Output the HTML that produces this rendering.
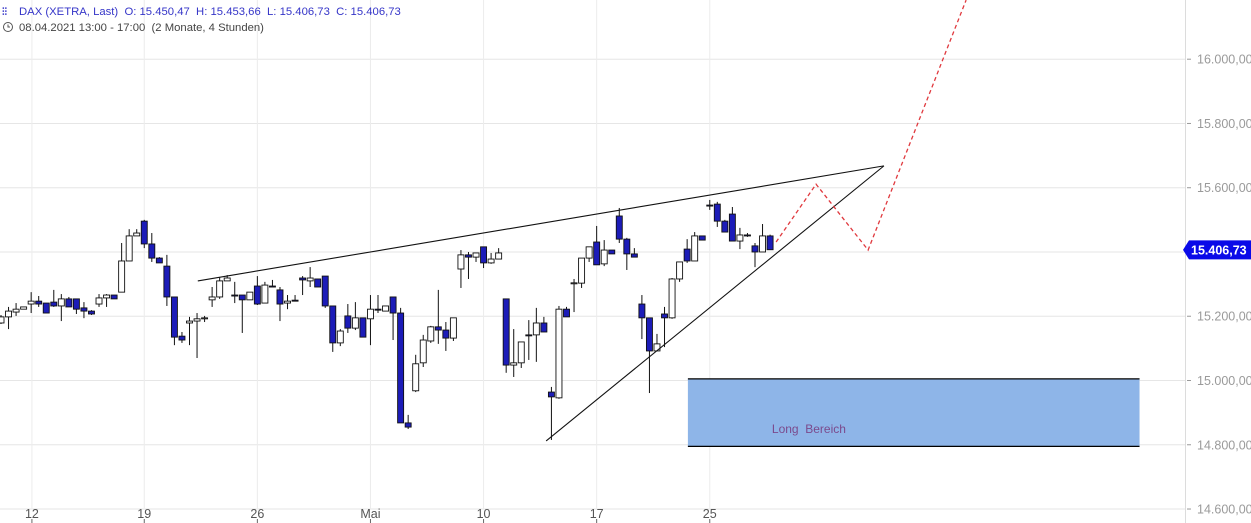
<!DOCTYPE html>
<html><head><meta charset="utf-8">
<style>
body{margin:0;background:#fff;width:1251px;height:523px;overflow:hidden;font-family:"Liberation Sans",sans-serif}
svg{display:block}
text{white-space:pre}
</style></head>
<body>
<svg id="chart" width="1251" height="523" xmlns="http://www.w3.org/2000/svg">
<g id="grid"></g>
<g id="annot-box"></g>
<g id="candles"></g>
<g id="annot"></g>
<g id="axes"></g>
<g>
  <text x="2" y="15" font-size="10" fill="#3535c8" font-weight="bold">⫶⫶</text>
  <text x="19" y="15" font-size="11.3" fill="#3535c8">DAX (XETRA, Last)  O: 15.450,47  H: 15.453,66  L: 15.406,73  C: 15.406,73</text>
  <circle cx="8" cy="27" r="4.5" fill="none" stroke="#555" stroke-width="1"/>
  <path d="M8 24.5V27H10" fill="none" stroke="#555" stroke-width="1"/>
  <text x="19" y="31" font-size="11.3" fill="#444">08.04.2021 13:00 - 17:00  (2 Monate, 4 Stunden)</text>
</g>
</svg>
<script>
const opens=[15179,15198,15213,15222,15238,15247,15241,15244,15232,15254,15254,15226,15216,15238,15257,15266,15275,15372,15450,15496,15425,15381,15356,15260,15138,15179,15185,15192,15251,15260,15310,15266,15266,15251,15294,15241,15294,15282,15241,15250,15319,15310,15316,15325,15232,15117,15201,15163,15195,15192,15222,15216,15260,15210,14868,14968,15055,15123,15167,15157,15132,15347,15391,15384,15416,15366,15378,15254,15048,15055,15142,15142,15179,14964,14946,15222,15303,15303,15381,15431,15363,15406,15512,15440,15394,15238,15195,15092,15207,15195,15316,15409,15372,15450,15546,15549,15496,15518,15434,15453,15419,15400,15450];
const highs=[15204,15229,15241,15229,15275,15263,15241,15282,15269,15260,15254,15244,15219,15269,15269,15266,15428,15471,15471,15500,15459,15384,15391,15260,15151,15198,15210,15201,15291,15322,15328,15307,15266,15275,15325,15307,15313,15291,15266,15266,15325,15353,15316,15325,15232,15160,15238,15244,15195,15266,15266,15232,15260,15226,14893,15080,15142,15170,15282,15182,15195,15406,15400,15397,15416,15397,15412,15254,15160,15120,15188,15226,15198,14980,15232,15229,15316,15381,15416,15481,15437,15406,15537,15444,15412,15266,15195,15145,15229,15319,15369,15440,15462,15450,15562,15556,15500,15540,15475,15459,15428,15487,15454];
const lows=[15176,15160,15201,15222,15210,15229,15210,15229,15185,15229,15207,15194,15204,15229,15229,15254,15275,15372,15450,15412,15369,15366,15232,15110,15117,15110,15070,15182,15229,15254,15310,15241,15148,15251,15235,15241,15291,15185,15222,15247,15266,15291,15291,15226,15089,15107,15148,15157,15135,15110,15210,15216,15126,14868,14849,14964,15042,15117,15114,15092,15123,15288,15316,15369,15350,15363,15378,15024,15011,15039,15064,15058,15151,14815,14943,15198,15213,15288,15369,15360,15356,15394,15428,15344,15384,15129,14961,15092,15104,15192,15307,15366,15372,15437,15531,15478,15462,15434,15409,15447,15353,15400,15407];
const closes=[15198,15216,15222,15229,15247,15238,15210,15232,15254,15229,15222,15216,15207,15257,15266,15254,15372,15450,15459,15425,15381,15366,15260,15135,15126,15185,15192,15195,15260,15310,15319,15264,15251,15275,15238,15297,15292,15238,15247,15249,15313,15319,15291,15232,15117,15154,15163,15195,15135,15222,15221,15232,15210,14868,14855,15052,15126,15167,15157,15132,15195,15391,15384,15397,15366,15378,15397,15048,15055,15120,15141,15179,15151,14949,15222,15198,15304,15381,15416,15360,15406,15394,15440,15394,15384,15195,15092,15114,15195,15316,15369,15372,15450,15437,15545,15496,15462,15434,15453,15452,15400,15450,15407];
const dateLabels=["12","19","26","Mai","10","17","25"];
const dateIndex=[4.1,19,34,49,64,79,94];
const priceTicks=[14600,14800,15000,15200,15400,15600,15800,16000];
const priceLabels=["14.600,00","14.800,00","15.000,00","15.200,00","15.400,00","15.600,00","15.800,00","16.000,00"];
const lastPrice=15406.73;
// annotation points [index, price]
const upperTrend=[[26.1,15310],[117.1,15668]];
const lowerTrend=[[72.3,14812],[117.1,15668]];
const projection=[[102.8,15431],[108.1,15611],[115.0,15406],[128.0,16184]];
const longZone=[[91.1,15005],[151.0,14795]];

const NS="http://www.w3.org/2000/svg";
const xs=i=>1+i*7.54;
const ys=v=>380.5-(v-15000)*0.3213;
function mk(parent,tag,attrs){const e=document.createElementNS(NS,tag);for(const k in attrs)e.setAttribute(k,attrs[k]);document.getElementById(parent).appendChild(e);return e;}

priceTicks.forEach((v,k)=>{
  const l=mk('grid','line',{x1:0,x2:1185,y1:ys(v),y2:ys(v),stroke:'#e6e6e6','stroke-width':1});
  
  
  const t=mk('axes','line',{x1:1187,x2:1191,y1:ys(v),y2:ys(v),stroke:'#999'});
  
  
  const tx=mk('axes','text',{x:1197,y:ys(v)+4.5,'font-size':12.5,fill:'#9a9a9a'});
  tx.textContent=priceLabels[k];
  
  
});
dateIndex.forEach((d,k)=>{
  const x=xs(d);
  const l=mk('grid','line',{x1:x,x2:x,y1:0,y2:509,stroke:'#ececec'});
  
  
  const t=mk('axes','line',{x1:x,x2:x,y1:519,y2:523,stroke:'#666'});
  
  
  const tx=mk('axes','text',{x:x,y:518,'font-size':12.5,fill:'#555','text-anchor':'middle'});
  tx.textContent=dateLabels[k];
  
  
});
const ax=mk('axes','line',{x1:1185.5,x2:1185.5,y1:0,y2:523,stroke:'#dcdcdc'});



{
  const x1=xs(longZone[0][0]),x2=xs(longZone[1][0]),y1=ys(longZone[0][1]),y2=ys(longZone[1][1]);
  const r=mk('annot-box','rect',{x:x1,y:y1,width:x2-x1,height:y2-y1,fill:'#8eb5e8'});
  
  
  const a=mk('annot-box','line',{x1:x1,x2:x2,y1:y1,y2:y1,stroke:'#000','stroke-width':1.3});
  
  
  const b=mk('annot-box','line',{x1:x1,x2:x2,y1:y2,y2:y2,stroke:'#000','stroke-width':1.3});
  
  
  const t=mk('annot-box','text',{x:x1+84,y:y1+54,'font-size':12,fill:'#7b4a8c'});
  t.textContent='Long  Bereich';
  
  
}

opens.forEach((o,i)=>{
  const x=xs(i),c=closes[i],h=highs[i],l=lows[i];
  const w=mk('candles','line',{x1:x,x2:x,y1:ys(h),y2:ys(l),stroke:'#111','stroke-width':1});
  
  
  const top=ys(Math.max(o,c)),bot=ys(Math.min(o,c));
  const bear=c<o;
  const r=mk('candles','rect',{x:x-3,y:top,width:6,height:Math.max(bot-top,1),fill:bear?'#1c1cb8':'#fff',stroke:'#111','stroke-width':0.9});
  
  
});

function poly(pts,attrs,name){
  const e=mk('annot','polyline',Object.assign({points:pts.map(p=>xs(p[0])+','+ys(p[1])).join(' '),fill:'none'},attrs));
  
  
}
poly(upperTrend,{stroke:'#111','stroke-width':1.1},'upper-trendline');
poly(lowerTrend,{stroke:'#111','stroke-width':1.1},'lower-trendline');
poly(projection,{stroke:'#e0393e','stroke-width':1.3,'stroke-dasharray':'4,3'},'projection-path');

{
  const y=ys(lastPrice);
  const p=mk('axes','path',{d:`M1183 ${y} L1189 ${y-9.5} H1251 V${y+9.5} H1189 Z`,fill:'#0a0ae8'});
  
  
  const t=mk('axes','text',{x:1191,y:y+4.5,'font-size':12.5,'font-weight':'bold',fill:'#fff'});
  t.textContent='15.406,73';
  
  
}
</script>
</body></html>
